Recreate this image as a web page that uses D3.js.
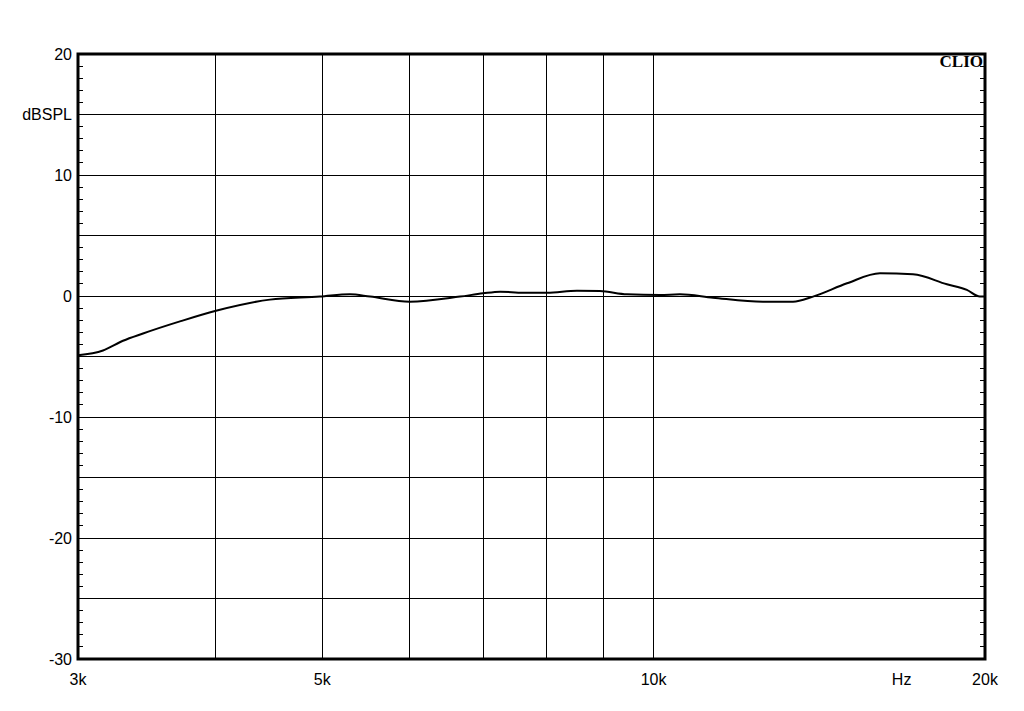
<!DOCTYPE html>
<html><head><meta charset="utf-8">
<script src="https://cdn.jsdelivr.net/npm/d3@7"></script>
<style>body{margin:0;background:#fff}svg{display:block}</style>
</head><body>
<script>
const freqs = [3000,3161,3296,3437,3713,4012,4482,4977,5298,5527,6004,6670,6999,7254,7611,8002,8519,8939,9457,10132,10564,11322,12570,13385,13957,14986,16056,17203,18469,19256,19787,20000];
const levels = [-4.9,-4.5,-3.7,-3.1,-2.1,-1.2,-0.3,-0.05,0.15,-0.05,-0.47,-0.05,0.22,0.36,0.27,0.27,0.44,0.41,0.14,0.08,0.14,-0.14,-0.47,-0.47,-0.05,1.05,1.88,1.79,0.97,0.5,-0.05,-0.05];
const yTickLabels = [{v:20,t:"20"},{v:15,t:"dBSPL"},{v:10,t:"10"},{v:0,t:"0"},{v:-10,t:"-10"},{v:-20,t:"-20"},{v:-30,t:"-30"}];
const xGrid = [4000,5000,6000,7000,8000,9000,10000];
const xTickLabels = [{v:3000,t:"3k"},{v:5000,t:"5k"},{v:10000,t:"10k"},{v:16800,t:"Hz"},{v:20000,t:"20k"}];

const W=1024,H=711, L=78,R=985,T=54,B=659;
const svg=d3.select("body").append("svg").attr("width",W).attr("height",H);
const x=d3.scaleLog().domain([3000,20000]).range([L,R]);
const y=d3.scaleLinear().domain([-30,20]).range([B,T]);
const font="'Liberation Sans', Arial, sans-serif";

svg.append("g").selectAll("line").data(d3.range(-25,20,5)).join("line")
  .attr("x1",L).attr("x2",R).attr("y1",d=>y(d)).attr("y2",d=>y(d))
  .attr("stroke","#000").attr("stroke-width",1).attr("shape-rendering","crispEdges");
svg.append("g").selectAll("line").data(xGrid).join("line")
  .attr("x1",d=>x(d)).attr("x2",d=>x(d)).attr("y1",T).attr("y2",B)
  .attr("stroke","#000").attr("stroke-width",1).attr("shape-rendering","crispEdges");
const minor=d3.range(-29,20,1).filter(d=>d%5!==0);
svg.append("g").selectAll("line").data(minor).join("line")
  .attr("x1",L).attr("x2",L+5).attr("y1",d=>y(d)).attr("y2",d=>y(d))
  .attr("stroke","#000").attr("stroke-width",1).attr("shape-rendering","crispEdges");
svg.append("g").selectAll("line").data(minor).join("line")
  .attr("x1",R-5).attr("x2",R).attr("y1",d=>y(d)).attr("y2",d=>y(d))
  .attr("stroke","#000").attr("stroke-width",1).attr("shape-rendering","crispEdges");
svg.append("rect").attr("x",L).attr("y",T).attr("width",R-L).attr("height",B-T)
  .attr("fill","none").attr("stroke","#000").attr("stroke-width",3);

const line=d3.line().x((d,i)=>x(freqs[i])).y(d=>y(d)).curve(d3.curveMonotoneX);
svg.append("path").datum(levels).attr("d",line).attr("fill","none")
  .attr("stroke","#000").attr("stroke-width",2);

svg.append("g").selectAll("text").data(yTickLabels).join("text")
  .attr("x",72).attr("y",d=>y(d.v)).attr("dy","0.36em").attr("text-anchor","end")
  .attr("font-family",font).attr("font-size",16).text(d=>d.t);
svg.append("g").selectAll("text").data(xTickLabels).join("text")
  .attr("x",d=>x(d.v)).attr("y",685).attr("text-anchor","middle")
  .attr("font-family",font).attr("font-size",16).text(d=>d.t);
svg.append("text").attr("x",983).attr("y",67).attr("text-anchor","end")
  .attr("font-family","'Liberation Serif', 'Times New Roman', serif").attr("font-weight","bold")
  .attr("font-size",17).text("CLIO");
</script>
</body></html>
